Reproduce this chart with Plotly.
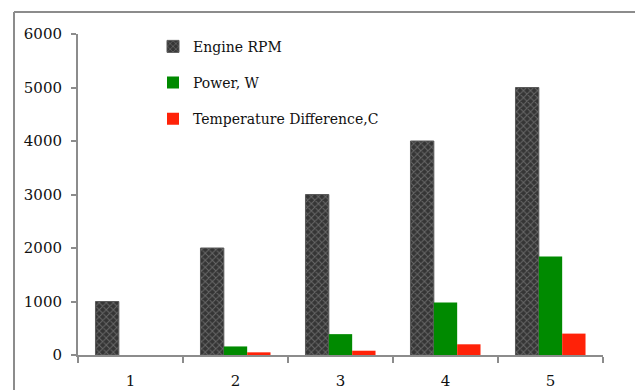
import plotly.graph_objects as go

# Test points and measured values
categories = ["1", "2", "3", "4", "5"]
engine_rpm = [1000, 2000, 3000, 4000, 5000]
power_w = [0, 160, 390, 980, 1840]
temp_diff_c = [0, 50, 80, 200, 400]

FONT = "DejaVu Serif"
W, H = 635, 390
ML, MR, MT, MB = 78, 32, 34, 35
PW, PH = W - ML - MR, H - MT - MB

fig = go.Figure()

fig.add_trace(go.Bar(
    name="Engine RPM", x=categories, y=engine_rpm, legendgroup="a",
    marker=dict(color="#3c3c3c",
                pattern=dict(shape="x", fgcolor="#9a9a9a", bgcolor="#353535",
                             size=5, solidity=0.35),
                line=dict(color="#5a5a5a", width=1)),
))
fig.add_trace(go.Bar(
    name="Power, W", x=categories, y=power_w, legendgroup="b",
    marker=dict(color="#008a00", line=dict(width=0)),
))
fig.add_trace(go.Bar(
    name="Temperature Difference,C", x=categories, y=temp_diff_c, legendgroup="c",
    marker=dict(color="#ff2208", line=dict(width=0)),
))

# Outer chart frame: left and top edges, kept inside the page
frame_x = (14 - ML) / PW
frame_y = 1 + (MT - 12) / PH
page_bottom = -MB / PH
page_right = (W - ML) / PW
fig.add_shape(type="line", xref="paper", yref="paper",
              x0=frame_x, x1=frame_x, y0=page_bottom, y1=frame_y,
              line=dict(color="#8c8c8c", width=2), layer="below")
fig.add_shape(type="line", xref="paper", yref="paper",
              x0=frame_x, x1=page_right, y0=frame_y, y1=frame_y,
              line=dict(color="#8c8c8c", width=2), layer="below")

fig.update_layout(
    width=W, height=H,
    margin=dict(l=ML, r=MR, t=MT, b=MB, autoexpand=False),
    paper_bgcolor="white", plot_bgcolor="white",
    barmode="group", bargap=0.333, bargroupgap=0,
    font=dict(family=FONT, size=15, color="#111111"),
    showlegend=True,
    legend=dict(x=(153 - ML) / PW, y=1.01, xanchor="left", yanchor="top",
                traceorder="grouped", tracegroupgap=15,
                font=dict(family=FONT, size=14, color="#111111"),
                bgcolor="rgba(0,0,0,0)"),
    xaxis=dict(type="category", showline=True, linecolor="#8c8c8c", linewidth=2,
               ticks="outside", tickson="boundaries", ticklen=6, tickcolor="#8c8c8c",
               tickwidth=2, showgrid=False, zeroline=False, ticklabelstandoff=11,
               automargin=False),
    yaxis=dict(range=[0, 6000], dtick=1000, showline=True, linecolor="#8c8c8c",
               linewidth=2, ticks="outside", ticklen=5, tickcolor="#8c8c8c",
               tickwidth=2, showgrid=False, zeroline=False, ticklabelstandoff=6,
               automargin=False),
)

# Hide page scrollbars around the fixed-size figure
fig.write_html(
    "out.html",
    post_script="document.documentElement.style.overflow='hidden';"
                "document.body.style.overflow='hidden';document.body.style.margin='0';",
)
